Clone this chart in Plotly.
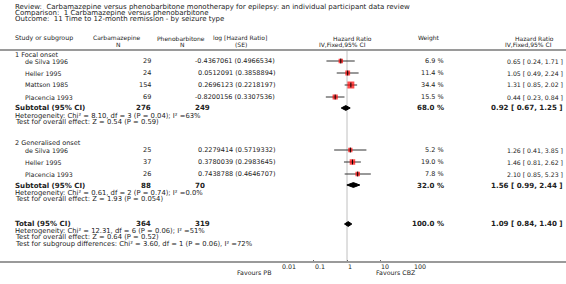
import math
import plotly.graph_objects as go

W, H = 566, 284

# ---------------- data ----------------
title_lines = [
    "Review:  Carbamazepine versus phenobarbitone monotherapy for epilepsy: an individual participant data review",
    "Comparison:  1 Carbamazepine versus phenobarbitone",
    "Outcome:  11 Time to 12-month remission - by seizure type",
]

group_names = ["1 Focal onset", "2 Generalised onset"]

focal_studies = ["de Silva 1996", "Heller 1995", "Mattson 1985", "Placencia 1993"]
focal_cbz_n = [29, 24, 154, 69]
focal_loghr = ["-0.4367061", "0.0512091", "0.2696123", "-0.8200156"]
focal_se = ["0.4966534", "0.3858894", "0.2218197", "0.3307536"]
focal_weight = [6.9, 11.4, 34.4, 15.5]
focal_hr = [0.65, 1.05, 1.31, 0.44]
focal_lo = [0.24, 0.49, 0.85, 0.23]
focal_hi = [1.71, 2.24, 2.02, 0.84]

gen_studies = ["de Silva 1996", "Heller 1995", "Placencia 1993"]
gen_cbz_n = [25, 37, 26]
gen_loghr = ["0.2279414", "0.3780039", "0.7438788"]
gen_se = ["0.5719332", "0.2983645", "0.4646707"]
gen_weight = [5.2, 19.0, 7.8]
gen_hr = [1.26, 1.46, 2.10]
gen_lo = [0.41, 0.81, 0.85]
gen_hi = [3.85, 2.62, 5.23]

sub_labels = ["Subtotal (95% CI)", "Subtotal (95% CI)", "Total (95% CI)"]
sub_cbz_n = [276, 88, 364]
sub_pb_n = [249, 70, 319]
sub_weight = [68.0, 32.0, 100.0]
sub_hr = [0.92, 1.56, 1.09]
sub_lo = [0.67, 0.99, 0.84]
sub_hi = [1.25, 2.44, 1.40]

focal_notes = ["Heterogeneity: Chi² = 8.10, df = 3 (P = 0.04); I² =63%",
               "Test for overall effect: Z = 0.54 (P = 0.59)"]
gen_notes = ["Heterogeneity: Chi² = 0.61, df = 2 (P = 0.74); I² =0.0%",
             "Test for overall effect: Z = 1.93 (P = 0.054)"]
total_notes = ["Heterogeneity: Chi² = 12.31, df = 6 (P = 0.06); I² =51%",
               "Test for overall effect: Z = 0.64 (P = 0.52)",
               "Test for subgroup differences: Chi² = 3.60, df = 1 (P = 0.06), I² =72%"]

tick_vals = [0.01, 0.1, 1, 10, 100]
tick_text = ["0.01", "0.1", "1", "10", "100"]
favours_left = "Favours PB"
favours_right = "Favours CBZ"

# ---------------- layout positions (pixels) ----------------
title_y = [6.5, 13, 19.5]
focal_rows = [61, 73, 85, 97]
gen_rows = [150, 162, 174]
group_y = [55, 143]
sub_rows = [108, 185, 224]
focal_note_y = [116, 122]
gen_note_y = [193, 199]
total_note_y = [231, 237, 243.5]
TOP_LINE = 50
AXIS_Y = 262
X_LO_PX, X_HI_PX = 280.7, 413.3

TXT = "#222222"
FONT = "DejaVu Sans"
FS = 6.5       # table cells
FS_TITLE = 7.0
FS_NOTE = 6.8  # notes
FS_CI = 6.2    # right CI column
FSB = 7.1      # bold rows
FS_HEAD = 6.0


def px(x):
    return x / W


def py(y):
    return 1 - y / H


annotations = []


def text(x, y, s, anchor="left", size=FS, bold=False):
    annotations.append(dict(
        x=px(x), y=py(y), xref="paper", yref="paper", text=("<b>%s</b>" % s) if bold else s,
        showarrow=False, xanchor=anchor, yanchor="middle",
        font=dict(family=FONT, size=size, color=TXT)))


for s, y in zip(title_lines, title_y):
    text(13, y, s, size=FS_TITLE)

# headers
text(13, 38, "Study or subgroup", size=6.3)
text(116, 38, "Carbamazepine", "center", size=FS_HEAD)
text(118, 44, "N", "center", size=FS_HEAD)
text(181, 38, "Phenobarbitone", "center", size=FS_HEAD)
text(182, 44, "N", "center", size=FS_HEAD)
text(240, 38, "log [Hazard Ratio]", "center", size=FS_HEAD)
text(241, 44, "(SE)", "center", size=FS_HEAD)
text(352, 38, "Hazard Ratio", "center", size=FS_HEAD)
text(342, 44, "IV,Fixed,95% CI", "center", size=FS_HEAD)
text(429, 38, "Weight", "center", size=FS_HEAD)
text(534, 38, "Hazard Ratio", "center", size=FS_HEAD)
text(528, 44, "IV,Fixed,95% CI", "center", size=FS_HEAD)

for g, y in zip(group_names, group_y):
    text(13, y, g)


def study_rows(names, ns, lhr, se, wt, hr, lo, hi, rows):
    for i, y in enumerate(rows):
        text(23, y, names[i], size=6.3)
        text(153, y, str(ns[i]), "right")
        text(277, y, "%s (%s)" % (lhr[i], se[i]), "right")
        text(446, y, "%.1f %%" % wt[i], "right")
        text(565, y, "%.2f [ %.2f, %.2f ]" % (hr[i], lo[i], hi[i]), "right", size=FS_CI)


study_rows(focal_studies, focal_cbz_n, focal_loghr, focal_se, focal_weight,
           focal_hr, focal_lo, focal_hi, focal_rows)
study_rows(gen_studies, gen_cbz_n, gen_loghr, gen_se, gen_weight,
           gen_hr, gen_lo, gen_hi, gen_rows)

for i, y in enumerate(sub_rows):
    text(13, y, sub_labels[i], size=FSB, bold=True)
    text(153, y, str(sub_cbz_n[i]), "right", size=FSB, bold=True)
    text(193, y, str(sub_pb_n[i]), "left", size=FSB, bold=True)
    text(446, y, "%.1f %%" % sub_weight[i], "right", size=FSB, bold=True)
    text(565, y, "%.2f [ %.2f, %.2f ]" % (sub_hr[i], sub_lo[i], sub_hi[i]), "right",
         size=FSB, bold=True)

for notes, ys in ((focal_notes, focal_note_y), (gen_notes, gen_note_y), (total_notes, total_note_y)):
    for s, y in zip(notes, ys):
        text(13, y, s, size=FS_NOTE)

# tick labels (left-aligned at the tick, as in the reference)
for v, t in zip(tick_vals, tick_text):
    annotations.append(dict(
        x=math.log10(v), y=py(266), xref="x", yref="paper", text=t, showarrow=False,
        xanchor="left", yanchor="middle", xshift=-1,
        font=dict(family=FONT, size=6.3, color=TXT)))
text(273, 272.5, favours_left, "right", size=6.3)
text(374, 272.5, favours_right, "left", size=6.3)

# ---------------- marks ----------------
fig = go.Figure()

all_hr = focal_hr + gen_hr
all_lo = focal_lo + gen_lo
all_hi = focal_hi + gen_hi
all_w = focal_weight + gen_weight
all_rows = focal_rows + gen_rows

# CI lines
for h, l, u, y in zip(all_hr, all_lo, all_hi, all_rows):
    fig.add_trace(go.Scatter(x=[l, u], y=[y, y], mode="lines",
                             line=dict(color="#333333", width=1), hoverinfo="skip"))

# weight squares
fig.add_trace(go.Scatter(
    x=all_hr, y=all_rows, mode="markers",
    marker=dict(symbol="square", color="#ff0000",
                size=[3.8 + 0.09 * w for w in all_w], line=dict(width=0)),
    hoverinfo="skip"))
# point estimate tick
fig.add_trace(go.Scatter(
    x=all_hr, y=all_rows, mode="markers",
    marker=dict(symbol="line-ns", size=3.5, line=dict(color="#000000", width=1)),
    hoverinfo="skip"))

# diamonds
DH = 2.4
for h, l, u, y in zip(sub_hr, sub_lo, sub_hi, sub_rows):
    fig.add_trace(go.Scatter(
        x=[l, h, u, h, l], y=[y, y - DH, y, y + DH, y], mode="lines", fill="toself",
        fillcolor="#000000", line=dict(color="#000000", width=1), hoverinfo="skip"))

shapes = [
    dict(type="line", xref="paper", yref="paper", x0=0, x1=1, y0=py(TOP_LINE), y1=py(TOP_LINE),
         line=dict(color="#9a9a9a", width=2)),
    dict(type="line", xref="paper", yref="paper", x0=0, x1=1, y0=py(AXIS_Y), y1=py(AXIS_Y),
         line=dict(color="#9a9a9a", width=2)),
    dict(type="line", xref="x", yref="y", x0=1, x1=1, y0=TOP_LINE, y1=AXIS_Y,
         line=dict(color="#c0c0c0", width=1), layer="below"),
]

fig.update_layout(
    width=W, height=H, margin=dict(l=0, r=0, t=0, b=0),
    paper_bgcolor="white", plot_bgcolor="rgba(0,0,0,0)",
    showlegend=False, annotations=annotations, shapes=shapes,
    xaxis=dict(type="log", range=[-2, 2], domain=[px(X_LO_PX), px(X_HI_PX)],
               tickvals=tick_vals, showticklabels=False, ticks="inside", ticklen=2,
               tickcolor="#666666", showgrid=False, zeroline=False, showline=False,
               fixedrange=True),
    yaxis=dict(range=[AXIS_Y, TOP_LINE], domain=[py(AXIS_Y), py(TOP_LINE)],
               visible=False, fixedrange=True),
)

fig.write_html(
    "out.html",
    config={"displayModeBar": False, "staticPlot": True},
    post_script="document.body.style.margin='0';document.body.style.overflow='hidden';",
)
